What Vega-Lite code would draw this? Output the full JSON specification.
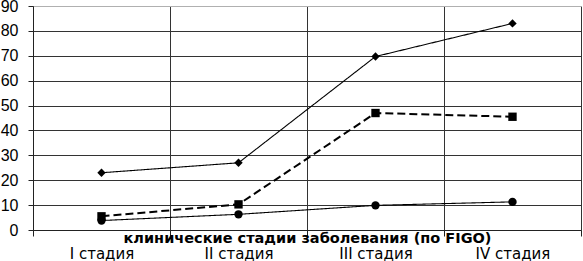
{
  "$schema": "https://vega.github.io/schema/vega-lite/v6.json",
  "width": 548,
  "height": 224,
  "autosize": "none",
  "padding": {"left": 33, "top": 6, "right": 2, "bottom": 31},
  "background": "white",
  "config": {"view": {"stroke": null}},
  "data": {
    "values": [
      {"stage": "I стадия", "series": "A", "value": 23},
      {"stage": "II стадия", "series": "A", "value": 27},
      {"stage": "III стадия", "series": "A", "value": 69.7},
      {"stage": "IV стадия", "series": "A", "value": 83},
      {"stage": "I стадия", "series": "B", "value": 5.5},
      {"stage": "II стадия", "series": "B", "value": 10.3},
      {"stage": "III стадия", "series": "B", "value": 47},
      {"stage": "IV стадия", "series": "B", "value": 45.5},
      {"stage": "I стадия", "series": "C", "value": 3.8},
      {"stage": "II стадия", "series": "C", "value": 6.3},
      {"stage": "III стадия", "series": "C", "value": 9.9},
      {"stage": "IV стадия", "series": "C", "value": 11.3}
    ]
  },
  "encoding": {
    "x": {
      "field": "stage",
      "type": "nominal",
      "sort": ["I стадия", "II стадия", "III стадия", "IV стадия"],
      "scale": {"type": "band", "paddingInner": 0, "paddingOuter": 0},
      "axis": {
        "title": "клинические стадии заболевания (по FIGO)",
        "titleFont": "DejaVu Sans",
        "titleFontWeight": "bold",
        "titleFontSize": 14.5,
        "titleColor": "black",
        "titleY": 12,
        "titleBaseline": "alphabetic",
        "tickBand": "extent",
        "grid": true,
        "gridColor": "#333",
        "gridOpacity": 1,
        "domainColor": "#222",
        "tickColor": "#222",
        "tickSize": 6,
        "labelFont": "DejaVu Sans",
        "labelFontSize": 15,
        "labelColor": "black",
        "labelPadding": 10,
        "labelAngle": 0
      }
    },
    "y": {
      "field": "value",
      "type": "quantitative",
      "scale": {"domain": [0, 90], "nice": false},
      "axis": {
        "title": null,
        "values": [0, 10, 20, 30, 40, 50, 60, 70, 80, 90],
        "grid": true,
        "gridColor": {"condition": {"test": "datum.value === 90", "value": "#b0b0b0"}, "value": "#333"},
        "gridOpacity": 1,
        "domainColor": "#222",
        "tickColor": "#222",
        "tickSize": 5,
        "labelFont": "Liberation Sans",
        "labelFontSize": 16,
        "labelColor": "black",
        "labelPadding": 10
      }
    }
  },
  "layer": [
    {
      "mark": {"type": "line", "color": "black"},
      "encoding": {
        "detail": {"field": "series"},
        "strokeDash": {
          "field": "series",
          "type": "nominal",
          "scale": {"domain": ["A", "B", "C"], "range": [[1, 0], [8, 4], [1, 0]]},
          "legend": null
        },
        "strokeWidth": {
          "condition": {"test": "datum.series === 'B'", "value": 2},
          "value": 1.1
        }
      }
    },
    {
      "mark": {"type": "point", "filled": true, "color": "black", "opacity": 1, "size": 70},
      "encoding": {
        "shape": {
          "field": "series",
          "type": "nominal",
          "scale": {"domain": ["A", "B", "C"], "range": ["diamond", "square", "circle"]},
          "legend": null
        }
      }
    }
  ]
}
